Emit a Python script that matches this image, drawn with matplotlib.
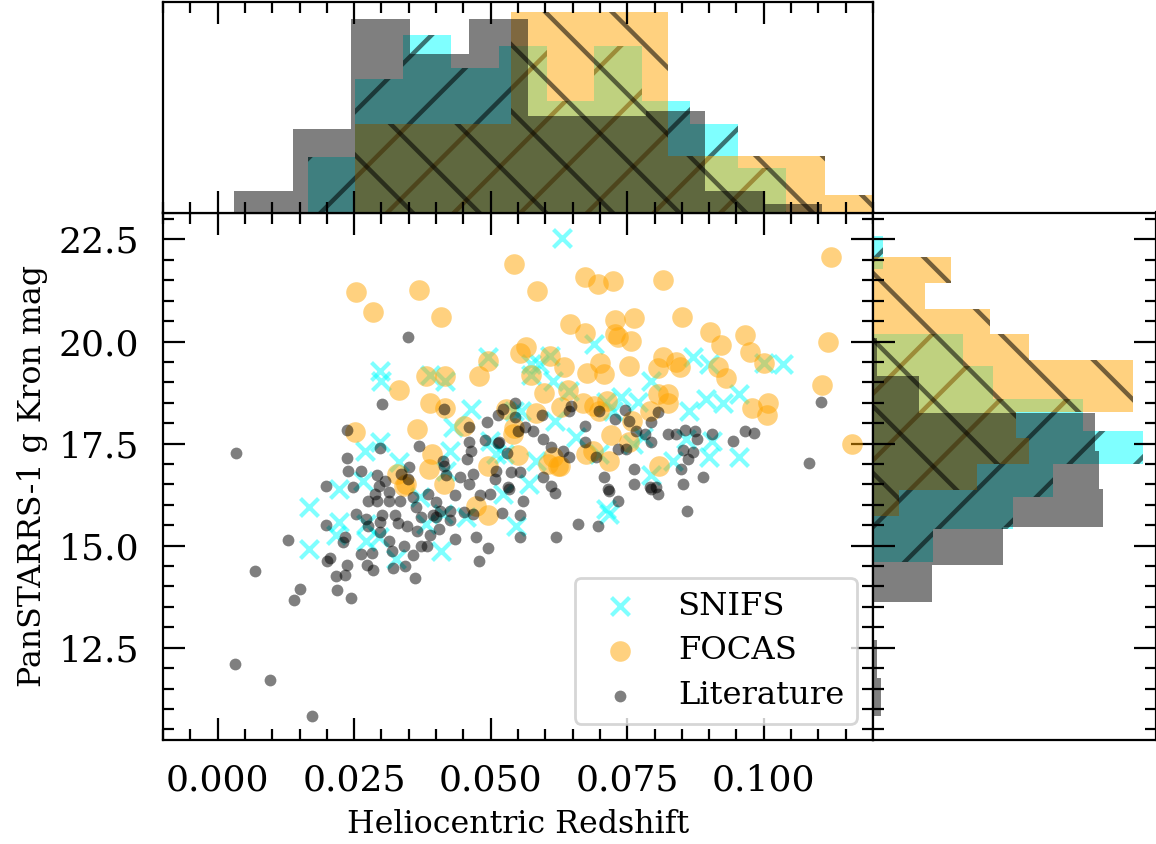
import matplotlib
matplotlib.use("Agg")
import matplotlib.pyplot as plt
import numpy as np
from matplotlib.ticker import MultipleLocator, FormatStrFormatter

# ---------------- data ----------------
snifs_z = [0.0495, 0.0298, 0.0300, 0.0389, 0.0417, 0.0464, 0.0431, 0.0298, 0.0270, 0.0333,
           0.0266, 0.0223, 0.0425, 0.0419, 0.0498, 0.0510, 0.0542,
           0.0630, 0.0690, 0.0608, 0.0574, 0.0589, 0.0574, 0.0614, 0.0644, 0.0870, 0.0900,
           0.1001, 0.1036, 0.0794, 0.0739, 0.0769, 0.0894, 0.0925, 0.0954, 0.0864, 0.0711,
           0.0724, 0.0617, 0.0556, 0.0656, 0.0778, 0.0858, 0.0906, 0.0900, 0.0955, 0.0833,
           0.0794, 0.0571, 0.0525, 0.0699, 0.0760, 0.0583,
           0.0168, 0.0167, 0.0223, 0.0217, 0.0272, 0.0272, 0.0296, 0.0327, 0.0370, 0.0382,
           0.0409, 0.0412, 0.0455, 0.0522, 0.0547, 0.0711, 0.0717]
snifs_mag = [19.62, 19.29, 19.04, 19.17, 19.04, 18.35, 17.90, 17.53, 17.33, 17.04,
             16.59, 16.39, 17.33, 16.84, 17.57, 17.25, 18.30,
             22.54, 19.94, 19.64, 19.45, 19.45, 19.17, 19.04, 18.80, 19.62, 19.45,
             19.47, 19.45, 19.04, 18.63, 18.51, 18.60, 18.49, 18.72, 18.31, 18.51,
             18.31, 18.06, 18.31, 17.65, 17.65, 17.61, 17.57, 17.16, 17.18, 17.08,
             16.72, 16.51, 17.25, 17.25, 17.49, 17.08,
             15.94, 14.92, 15.57, 15.25, 15.53, 15.12, 15.20, 14.68, 16.18, 15.53,
             14.88, 15.78, 15.69, 16.27, 15.49, 15.90, 15.78]

focas_z = [0.0254, 0.0285, 0.0368, 0.0409, 0.0542, 0.0333, 0.0382, 0.0417, 0.0478, 0.0495,
           0.0553, 0.0389, 0.0417, 0.0251, 0.0365, 0.0451, 0.0528, 0.0542, 0.0495, 0.0392,
           0.0387, 0.0328, 0.0345, 0.0415, 0.0550,
           0.0585, 0.0673, 0.0696, 0.0724, 0.0815, 0.1124, 0.0646, 0.0672, 0.0727, 0.0763,
           0.0727, 0.0733, 0.0757, 0.0850, 0.0902, 0.0922, 0.0966, 0.0974, 0.1001, 0.1117,
           0.1106, 0.1162, 0.0565, 0.0608, 0.0574, 0.0634, 0.0677, 0.0701, 0.0708, 0.0754,
           0.0806, 0.0815, 0.0839, 0.0846, 0.0917, 0.0930, 0.0598, 0.0641, 0.0669, 0.0629,
           0.0583, 0.0540, 0.0690, 0.0713, 0.0699, 0.0720, 0.0759, 0.0791, 0.0806, 0.0824,
           0.0824, 0.0978, 0.1007, 0.1006, 0.0687, 0.0614, 0.0626, 0.0717, 0.0675, 0.0809,
           0.0754, 0.0342, 0.0473, 0.0495, 0.0623, 0.0605]
focas_mag = [21.21, 20.72, 21.27, 20.60, 21.89, 18.82, 19.15, 19.15, 19.15, 19.53,
             19.72, 18.49, 18.37, 17.79, 17.86, 17.92, 18.35, 17.88, 16.96, 17.25,
             16.88, 16.76, 16.51, 16.51, 17.21,
             21.23, 21.58, 21.41, 21.47, 21.50, 22.08, 20.43, 20.21, 20.53, 20.57,
             20.19, 20.12, 20.02, 20.61, 20.23, 19.92, 20.16, 19.74, 19.47, 19.98,
             18.94, 17.48, 19.86, 19.64, 19.17, 19.37, 19.23, 19.47, 19.21, 19.40,
             19.36, 19.63, 19.49, 19.37, 19.37, 19.10, 18.74, 18.82, 18.49, 18.39,
             18.24, 17.74, 18.43, 18.55, 18.31, 17.70, 18.06, 18.31, 18.72, 18.72,
             18.49, 18.37, 18.49, 18.19, 17.33, 17.16, 16.94, 17.08, 17.25, 16.94,
             17.53, 16.47, 15.98, 15.74, 16.96, 17.00]

lit_z = [0.0348, 0.0301, 0.0034, 0.0237, 0.0415, 0.0493, 0.0514, 0.0522, 0.0545, 0.0461,
         0.0460, 0.0464, 0.0456, 0.0489, 0.0513, 0.0530, 0.0550, 0.0368, 0.0298, 0.0237,
         0.0239, 0.0263, 0.0292, 0.0306, 0.0336, 0.0351, 0.0348, 0.0412, 0.0415, 0.0418,
         0.0443, 0.0467, 0.0461, 0.0507, 0.0537, 0.0198, 0.0248, 0.0531,
         0.1105, 0.1083, 0.0544, 0.0562, 0.0577, 0.0594, 0.0595, 0.0644, 0.0647, 0.0672,
         0.0699, 0.0728, 0.0746, 0.0753, 0.0766, 0.0783, 0.0794, 0.0806, 0.0824, 0.0839,
         0.0855, 0.0874, 0.0878, 0.0905, 0.0943, 0.0966, 0.0982, 0.0853, 0.0870, 0.0861,
         0.0849, 0.0889, 0.0852, 0.0763, 0.0763, 0.0708, 0.0714, 0.0791, 0.0803, 0.0748,
         0.0733, 0.0672, 0.0643, 0.0632, 0.0611, 0.0595, 0.0611, 0.0693, 0.0794, 0.0516,
         0.0296, 0.0313, 0.0289, 0.0275, 0.0292, 0.0313, 0.0334, 0.0357, 0.0385, 0.0400,
         0.0426, 0.0435, 0.0481, 0.0498, 0.0510, 0.0553, 0.0534, 0.0559, 0.0521, 0.0554,
         0.0554, 0.0618, 0.0620, 0.0659, 0.0467, 0.0473, 0.0478, 0.0495, 0.0434, 0.0426,
         0.0405, 0.0408, 0.0400, 0.0388, 0.0384, 0.0365, 0.0373, 0.0364, 0.0346, 0.0330,
         0.0324, 0.0301, 0.0298, 0.0298, 0.0314, 0.0319, 0.0341, 0.0357, 0.0344, 0.0361,
         0.0321, 0.0284, 0.0273, 0.0282, 0.0263, 0.0254, 0.0272, 0.0276, 0.0234, 0.0229,
         0.0199, 0.0205, 0.0201, 0.0236, 0.0216, 0.0234, 0.0219, 0.0244, 0.0128, 0.0140,
         0.0151, 0.0068, 0.0031, 0.0096, 0.0172, 0.0373, 0.0395, 0.0452,
         0.0697, 0.0716, 0.0733, 0.0794, 0.0806, 0.0859]
lit_mag = [20.10, 18.46, 17.27, 17.84, 18.35, 18.02, 18.19, 18.35, 18.49, 17.90,
           17.53, 17.33, 17.12, 17.60, 17.52, 17.27, 17.82, 17.43, 17.38, 17.15,
           16.84, 16.82, 16.72, 16.59, 16.76, 16.92, 16.63, 17.08, 16.94, 16.72,
           16.67, 16.76, 16.51, 16.63, 16.80, 16.45, 16.43, 16.43,
           18.53, 17.02, 18.14, 17.90, 17.80, 18.21, 17.61, 18.31, 18.43, 17.92,
           18.31, 18.10, 18.33, 18.06, 17.80, 17.74, 18.04, 18.28, 17.74, 17.74,
           17.84, 17.82, 17.61, 17.74, 17.57, 17.80, 17.76, 17.35, 17.29, 17.13,
           16.88, 16.67, 16.51, 16.88, 16.51, 16.67, 16.39, 16.43, 16.43, 17.37,
           17.37, 17.53, 17.16, 17.33, 17.41, 16.67, 16.47, 17.16, 17.53, 17.53,
           16.47, 16.31, 16.27, 16.10, 16.09, 16.09, 16.09, 16.18, 16.27, 16.06,
           15.86, 16.23, 16.23, 16.27, 16.84, 16.80, 16.39, 16.10, 15.79, 15.75,
           15.20, 16.29, 15.22, 15.53, 15.78, 15.20, 14.63, 14.94, 15.16, 15.63,
           15.41, 15.86, 15.69, 15.25, 15.00, 15.37, 15.69, 15.94, 15.49, 15.56,
           15.74, 15.74, 15.57, 15.34, 15.12, 14.88, 14.98, 14.78, 14.49, 14.21,
           14.45, 14.40, 14.53, 14.81, 14.79, 15.78, 15.65, 15.49, 15.20, 15.08,
           15.51, 14.70, 14.63, 14.53, 14.26, 14.29, 13.92, 13.71, 15.14, 13.66,
           13.95, 14.39, 12.10, 11.72, 10.83, 15.00, 15.74, 15.82,
           15.49, 16.35, 16.09, 16.39, 16.27, 15.84]

# histogram counts (10 bins over each sample's range)
lit_z_range, lit_z_counts = (0.00295, 0.1107), [5, 19, 44, 36, 44, 22, 22, 23, 5, 2]
snifs_z_range, snifs_z_counts = (0.01646, 0.1040), [5, 12, 16, 13, 15, 10, 15, 10, 8, 4]
focas_z_range, focas_z_counts = (0.0251, 0.3120), [25, 57, 16, 5, 0, 0, 0, 0, 0, 1]
lit_mag_range, lit_mag_counts = (10.83, 20.09), [2, 1, 0, 14, 31, 55, 54, 53, 11, 1]
snifs_mag_range, snifs_mag_counts = (14.61, 22.58), [6, 14, 18, 27, 21, 12, 9, 0, 0, 1]
focas_mag_range, focas_mag_counts = (15.72, 22.08), [2, 8, 12, 11, 20, 20, 12, 9, 4, 6]

labels = ["SNIFS", "FOCAS", "Literature"]
xlabel = "Heliocentric Redshift"
ylabel = "PanSTARRS-1 g Kron mag"

# ---------------- figure ----------------
plt.rcParams["font.family"] = "serif"
plt.rcParams["hatch.color"] = (0, 0, 0, 0.55)
plt.rcParams["hatch.linewidth"] = 1.6

W, H = 1156, 844
fig = plt.figure(figsize=(W / 200, H / 200), dpi=200)
L, R = 163 / W, 873 / W
B, T = 1 - 740 / H, 1 - 212.5 / H
ax = fig.add_axes([L, B, R - L, T - B])
axt = fig.add_axes([L, T, R - L, (1 - 1.7 / H) - T], sharex=ax)
axr = fig.add_axes([R, B, 1.0 - R, T - B], sharey=ax)

ax.scatter(snifs_z, snifs_mag, marker="x", c="cyan", alpha=0.5, s=42, linewidths=1.5,
           label=labels[0], zorder=2)
ax.scatter(focas_z, focas_mag, marker="o", c="orange", alpha=0.5, s=55, linewidths=0,
           label=labels[1], zorder=2)
ax.scatter(lit_z, lit_mag, marker="o", c="black", alpha=0.5, s=18, linewidths=0,
           label=labels[2], zorder=2)


def draw_hist(a, rng, counts, orientation, **kw):
    edges = np.linspace(rng[0], rng[1], len(counts) + 1)
    mids = 0.5 * (edges[:-1] + edges[1:])
    a.hist(mids, bins=edges, weights=counts, density=True, orientation=orientation, **kw)


draw_hist(axt, snifs_z_range, snifs_z_counts, "vertical", color="cyan", alpha=0.5, hatch="/")
draw_hist(axt, focas_z_range, focas_z_counts, "vertical", color="orange", alpha=0.5, hatch="\\")
draw_hist(axt, lit_z_range, lit_z_counts, "vertical", color="black", alpha=0.5)

draw_hist(axr, snifs_mag_range, snifs_mag_counts, "horizontal", color="cyan", alpha=0.5, hatch="/")
draw_hist(axr, focas_mag_range, focas_mag_counts, "horizontal", color="orange", alpha=0.5, hatch="\\")
draw_hist(axr, lit_mag_range, lit_mag_counts, "horizontal", color="black", alpha=0.5)

ax.set_xlim(-0.01, 0.12)
ax.set_ylim(10.24, 23.16)

ax.xaxis.set_major_locator(MultipleLocator(0.025))
ax.xaxis.set_minor_locator(MultipleLocator(0.005))
ax.yaxis.set_major_locator(MultipleLocator(2.5))
ax.yaxis.set_minor_locator(MultipleLocator(0.5))
ax.xaxis.set_major_formatter(FormatStrFormatter("%.3f"))

ax.tick_params(which="both", direction="in", top=True, right=True, labelsize=13, pad=8.5)
ax.tick_params(which="major", length=8, width=0.8)
ax.tick_params(which="minor", length=4, width=0.8)

axt.tick_params(which="both", direction="in", top=True, bottom=True, left=False,
                labelbottom=False, labelleft=False)
axt.tick_params(which="major", length=8, width=0.8)
axt.tick_params(which="minor", length=4, width=0.8)
axt.set_yticks([])

axr.tick_params(which="both", direction="in", left=True, right=True, bottom=False,
                labelleft=False, labelbottom=False)
axr.tick_params(which="major", length=8, width=0.8)
axr.tick_params(which="minor", length=4, width=0.8)
axr.set_xticks([])

ax.set_xlabel(xlabel, fontsize=11.4)
ax.set_ylabel(ylabel, fontsize=11.4)
ax.legend(loc="lower right", fontsize=11.6, labelspacing=0.42)

fig.savefig("out.png", dpi=200)
